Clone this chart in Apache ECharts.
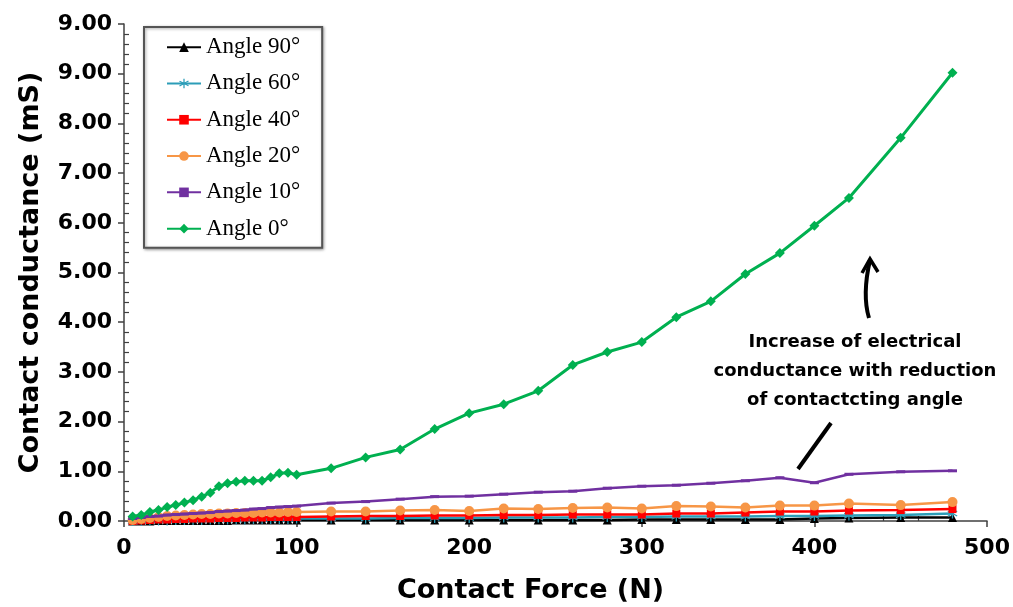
<!DOCTYPE html>
<html>
<head>
<meta charset="utf-8">
<script src="https://cdn.jsdelivr.net/npm/echarts@6/dist/echarts.min.js"></script>
<style>html,body{margin:0;padding:0;background:#fff;}#c{width:1013px;height:607px;}</style>
</head>
<body>
<div id="c"></div>
<script>
// Contact force (N)
const forceN = [5,10,15,20,25,30,35,40,45,50,55,60,65,70,75,80,85,90,95,100,
  120,140,160,180,200,220,240,260,280,300,320,340,360,380,400,420,450,480];
// Contact conductance (mS)
const angle90 = [0.00,0.00,0.00,0.01,0.01,0.01,0.01,0.01,0.01,0.01,0.01,0.01,0.02,0.02,0.02,0.02,0.02,0.02,0.02,0.02,
  0.02,0.02,0.02,0.02,0.02,0.02,0.02,0.02,0.02,0.03,0.03,0.03,0.03,0.03,0.05,0.06,0.07,0.07];
const angle60 = [0.00,0.00,0.01,0.01,0.01,0.02,0.02,0.02,0.02,0.03,0.03,0.03,0.03,0.03,0.04,0.04,0.04,0.04,0.04,0.05,
  0.05,0.05,0.06,0.06,0.06,0.07,0.07,0.07,0.08,0.08,0.09,0.09,0.09,0.10,0.10,0.11,0.12,0.15];
const angle40 = [0.00,0.01,0.02,0.03,0.03,0.04,0.04,0.05,0.05,0.05,0.06,0.06,0.06,0.07,0.07,0.07,0.08,0.08,0.08,0.08,
  0.09,0.10,0.10,0.11,0.11,0.12,0.12,0.13,0.13,0.13,0.15,0.15,0.17,0.19,0.19,0.21,0.22,0.24];
const angle20 = [0.02,0.04,0.06,0.08,0.10,0.11,0.12,0.13,0.14,0.14,0.15,0.15,0.16,0.16,0.16,0.17,0.17,0.17,0.18,0.18,
  0.19,0.19,0.21,0.22,0.20,0.25,0.24,0.26,0.27,0.25,0.30,0.29,0.27,0.31,0.31,0.35,0.32,0.38];
const angle10 = [0.05,0.07,0.09,0.10,0.12,0.13,0.14,0.15,0.16,0.17,0.19,0.20,0.21,0.22,0.24,0.25,0.27,0.28,0.29,0.30,
  0.36,0.39,0.44,0.49,0.50,0.54,0.58,0.60,0.66,0.70,0.72,0.76,0.81,0.87,0.77,0.94,0.99,1.01];
const angle0 = [0.09,0.12,0.18,0.22,0.28,0.32,0.37,0.42,0.49,0.57,0.70,0.76,0.79,0.81,0.81,0.81,0.88,0.96,0.97,0.93,
  1.06,1.28,1.44,1.85,2.17,2.35,2.62,3.14,3.40,3.60,4.10,4.42,4.97,5.39,5.94,6.50,7.71,9.02];

const seriesNames = ['Angle 90°','Angle 60°','Angle 40°','Angle 20°','Angle 10°','Angle 0°'];
const yTickLabels = ['0.00','1.00','2.00','3.00','4.00','5.00','6.00','7.00','8.00','9.00','9.00'];
const xTickLabels = ['0','100','200','300','400','500'];
const annotationLines = ['Increase of electrical','conductance with reduction','of contactcting angle'];

const seriesData = [angle90, angle60, angle40, angle20, angle10, angle0];
const colors = ['#000000','#2C9DB8','#FF0000','#F79646','#7030A0','#00B050'];
const asterisk = 'path://M4.4,0h1.2v3.9l3.4-2 .6 1-3.4 2 3.4 2-.6 1-3.4-2V10H4.4V6.1L1,8.1l-.6-1 3.4-2-3.4-2 .6-1 3.4 2z';
const symbols = ['triangle', asterisk, 'rect', 'circle', 'rect', 'diamond'];
const symbolSizes = [9, 10, 8, 10, [9,3], 10];
const lineWidths = [2.5, 2.5, 2.5, 2.5, 2.5, 3];

const series = seriesNames.map((name, i) => ({
  name: name,
  type: 'line',
  data: forceN.map((f, j) => [f, seriesData[i][j]]),
  symbol: symbols[i],
  symbolSize: symbolSizes[i],
  showAllSymbol: true,
  color: colors[i],
  lineStyle: { width: lineWidths[i], color: colors[i] },
  itemStyle: { color: colors[i] },
  z: 2 + i,
  animation: false
}));

const chart = echarts.init(document.getElementById('c'), null, { renderer: 'canvas' });
const axisFont = { fontFamily: 'DejaVu Sans', fontWeight: 'bold', color: '#000' };
const axisLineStyle = { color: '#404040', width: 1.5 };

chart.setOption({
  backgroundColor: '#ffffff',
  animation: false,
  grid: { left: 124, right: 26, top: 24, bottom: 86, containLabel: false, outerBoundsMode: 'none' },
  legend: {
    orient: 'vertical',
    left: 144, top: 27,
    padding: [8, 22, 7, 22],
    itemWidth: 34, itemHeight: 12, itemGap: 12,
    borderColor: '#555', borderWidth: 2,
    shadowColor: 'rgba(0,0,0,0.35)', shadowBlur: 3, shadowOffsetX: 1, shadowOffsetY: 1,
    backgroundColor: '#fff',
    textStyle: { fontFamily: 'Liberation Serif', fontSize: 23, color: '#000', lineHeight: 24.3, padding: [0,0,0,0] },
    data: seriesNames
  },
  xAxis: [{
    type: 'value', min: 0, max: 500, interval: 100,
    name: 'Contact Force (N)', nameLocation: 'middle', nameGap: 56,
    nameTextStyle: Object.assign({ fontSize: 27, padding: [0, 50, 0, 0] }, axisFont),
    axisLine: { show: true, lineStyle: axisLineStyle },
    axisTick: { show: true, length: 6, lineStyle: axisLineStyle },
    axisLabel: Object.assign({ fontSize: 22, margin: 16, formatter: v => xTickLabels[Math.round(v / 100)] }, axisFont),
    splitLine: { show: false }
  }, {
    type: 'value', min: 0, max: 500, interval: 100, position: 'bottom',
    axisLine: { show: false }, axisLabel: { show: false },
    axisTick: { show: false, inside: true },
    minorTick: { show: true, splitNumber: 5, length: 5, lineStyle: { color: '#404040', width: 1.2 } },
    splitLine: { show: false }
  }],
  yAxis: [{
    type: 'value', min: 0, max: 10, interval: 1,
    name: 'Contact conductance (mS)', nameLocation: 'middle', nameGap: 80, nameRotate: 90,
    nameTextStyle: Object.assign({ fontSize: 27 }, axisFont),
    axisLine: { show: true, lineStyle: axisLineStyle },
    axisTick: { show: true, length: 6, lineStyle: axisLineStyle },
    axisLabel: Object.assign({ fontSize: 22, margin: 12, formatter: v => yTickLabels[Math.round(v)] }, axisFont),
    splitLine: { show: false }
  }, {
    type: 'value', min: 0, max: 10, interval: 1, position: 'left',
    axisLine: { show: false }, axisLabel: { show: false },
    axisTick: { show: false, inside: true },
    minorTick: { show: true, splitNumber: 5, length: 5, lineStyle: { color: '#404040', width: 1.2 } },
    splitLine: { show: false }
  }],
  series: series,
  graphic: [
    ...annotationLines.map((t, i) => ({
      type: 'text', x: 855, y: 342 + i * 29, z: 100,
      style: { text: t, font: 'bold 18px "DejaVu Sans"', fill: '#000', textAlign: 'center', textVerticalAlign: 'middle' }
    })),
    { type: 'bezierCurve', z: 100,
      shape: { x1: 869, y1: 318, x2: 870, y2: 260, cpx1: 862, cpy1: 295 },
      style: { stroke: '#000', lineWidth: 4, fill: null } },
    { type: 'polyline', z: 100,
      shape: { points: [[862, 273], [870, 259], [878, 272]] },
      style: { stroke: '#000', lineWidth: 3.5, fill: null, lineJoin: 'miter' } },
    { type: 'line', z: 100,
      shape: { x1: 831, y1: 423, x2: 798, y2: 469 },
      style: { stroke: '#000', lineWidth: 4 } }
  ]
});
</script>
</body>
</html>
